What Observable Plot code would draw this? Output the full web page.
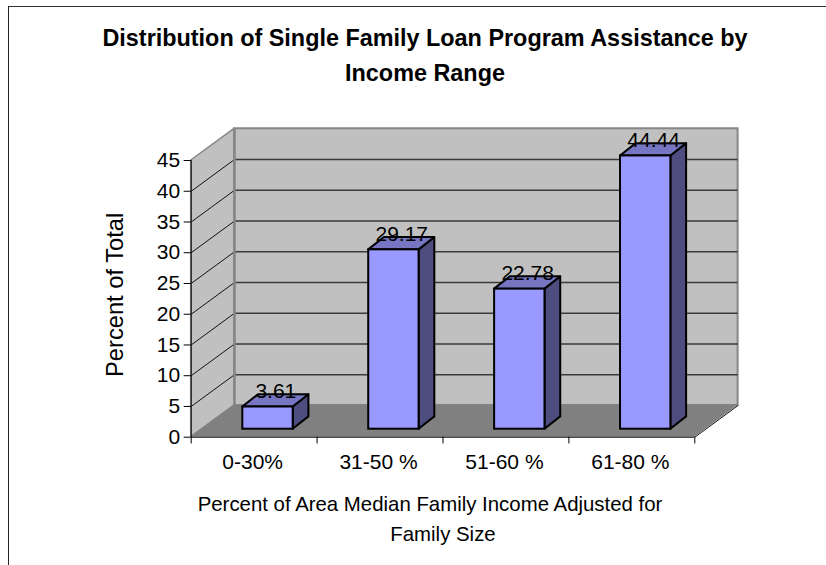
<!DOCTYPE html>
<html>
<head>
<meta charset="utf-8">
<script src="https://cdn.jsdelivr.net/npm/d3@7"></script>
<script src="https://cdn.jsdelivr.net/npm/@observablehq/plot@0.6"></script>
<style>
  html, body { margin: 0; padding: 0; background: #fff; overflow: hidden; }
  #page { position: relative; width: 826px; height: 565px; font-family: "Liberation Sans", Arial, sans-serif; color: #000; }
  #border { position: absolute; left: 8px; top: 6px; right: 0; bottom: -4px; border-left: 1.5px solid #222; border-top: 1.5px solid #333; }
  #chart { position: absolute; left: 0; top: 0; }
  .line { position: absolute; white-space: nowrap; transform: translateX(-50%); line-height: 1; }
  .title { font-weight: bold; font-size: 23.4px; }
  .caption { font-size: 20.4px; }
</style>
</head>
<body>
<div id="page">
  <div id="border"></div>
  <div id="chart"></div>
  <div class="line title" style="left:425px;top:27px">Distribution of Single Family Loan Program Assistance by</div>
  <div class="line title" style="left:425px;top:62px">Income Range</div>
  <div class="line caption" style="left:430px;top:494px">Percent of Area Median Family Income Adjusted for</div>
  <div class="line caption" style="left:443px;top:524px">Family Size</div>
</div>
<script>
// Loan program shares by income range
const categories = ["0-30%", "31-50 %", "51-60 %", "61-80 %"];
const shares = [3.61, 29.17, 22.78, 44.44];
const valueTicks = [0, 5, 10, 15, 20, 25, 30, 35, 40, 45];
const categoryEdges = [0, 1, 2, 3, 4];

// Oblique projection: how far the rear plane sits from the front plane, in scale units
const depthX = 0.344;
const depthY = 5.16;
const xMax = 4;
const yMax = 45;

// Bar placement within a category band, and the bar's own depth
const barOffset = 0.41;
const barWidth = 0.40;
const barDepthX = 0.125;
const barDepthY = 2.0;
const barBase = 1.3;

const bars = shares.map((value, i) => {
  const x1 = i + barOffset;
  const x2 = x1 + barWidth;
  const y1 = barBase;
  const y2 = barBase + value;
  return {category: categories[i], value, x1, x2, y1, y2};
});

const sideFaces = bars.flatMap((b) => [
  {category: b.category, x: b.x2, y1: b.y1, y2: b.y2},
  {category: b.category, x: b.x2 + barDepthX, y1: b.y1 + barDepthY, y2: b.y2 + barDepthY}
]);
const topFaces = bars.flatMap((b) => [
  {category: b.category, y: b.y2, x1: b.x1, x2: b.x2},
  {category: b.category, y: b.y2 + barDepthY, x1: b.x1 + barDepthX, x2: b.x2 + barDepthX}
]);

const sideWall = [
  {x: 0, y1: 0, y2: yMax},
  {x: depthX, y1: depthY, y2: yMax + depthY}
];
const floor = [
  {y: 0, x1: 0, x2: xMax},
  {y: depthY, x1: depthX, x2: xMax + depthX}
];

const chart = Plot.plot({
  width: 826,
  height: 565,
  marginLeft: 190.7,
  marginRight: 131.7,
  marginTop: 160,
  marginBottom: 128.3,
  style: {background: "transparent", fontFamily: '"Liberation Sans", Arial, sans-serif', overflow: "visible"},
  x: {domain: [0, xMax]},
  y: {domain: [0, yMax]},
  marks: [
    // Rear wall, side wall and floor
    Plot.rect([0], {x1: depthX, x2: xMax + depthX, y1: depthY, y2: yMax + depthY, fill: "#c0c0c0", stroke: "#868686", strokeWidth: 2}),
    Plot.areaY(sideWall, {x: "x", y1: "y1", y2: "y2", fill: "#c0c0c0", stroke: "#868686", strokeWidth: 1.5}),
    Plot.areaX(floor, {y: "y", x1: "x1", x2: "x2", fill: "#808080"}),
    // Gridlines on both walls
    Plot.ruleY(valueTicks.slice(1, -1), {y: (d) => d + depthY, x1: depthX, x2: xMax + depthX, stroke: "#3a3a3a", strokeWidth: 1.3}),
    Plot.link(valueTicks.slice(1, -1), {x1: 0, y1: (d) => d, x2: depthX, y2: (d) => d + depthY, stroke: "#111", strokeWidth: 1}),
    Plot.ruleX([depthX], {y1: depthY, y2: yMax + depthY, stroke: "#868686", strokeWidth: 2.5}),
    Plot.link([xMax], {x1: (d) => d, y1: 0, x2: (d) => d + depthX, y2: depthY, stroke: "#111", strokeWidth: 1}),
    // Bars: side, top, then front face
    Plot.areaY(sideFaces, {x: "x", y1: "y1", y2: "y2", z: "category", fill: "#4d4d80", stroke: "#000", strokeWidth: 2}),
    Plot.areaX(topFaces, {y: "y", x1: "x1", x2: "x2", z: "category", fill: "#7676c2", stroke: "#000", strokeWidth: 2}),
    Plot.rect(bars, {x1: "x1", x2: "x2", y1: "y1", y2: "y2", fill: "#9999ff", stroke: "#000", strokeWidth: 2}),
    // Axis lines and ticks
    Plot.ruleX([0], {y1: 0, y2: yMax, stroke: "#000", strokeWidth: 1}),
    Plot.ruleY([0], {x1: 0, x2: xMax, stroke: "#000", strokeWidth: 1}),
    Plot.ruleX(categoryEdges, {x: (d) => d, y1: 0, y2: -1.1, stroke: "#000", strokeWidth: 1}),
    Plot.axisX({
      ticks: categories.map((_, i) => i + 0.5),
      tickFormat: (d) => categories[d - 0.5],
      tickSize: 0,
      tickPadding: 17,
      dx: -1.5,
      fontSize: 21,
      label: null,
      color: "#000"
    }),
    Plot.axisY({
      ticks: valueTicks,
      tickFormat: (d) => `${d}`,
      tickSize: 7,
      tickPadding: 4,
      fontSize: 21,
      label: null,
      color: "#000"
    }),
    Plot.text(["Percent of Total"], {
      text: (d) => d,
      frameAnchor: "left",
      textAnchor: "middle",
      dx: -75.7,
      dy: -4,
      rotate: -90,
      fontSize: 23.7,
      fill: "#000"
    }),
    // Value labels above each bar
    Plot.text(bars, {
      x: (d) => (d.x1 + d.x2 + barDepthX) / 2,
      y: "y2",
      dy: -15.5,
      text: (d) => d.value.toFixed(2),
      fontSize: 21,
      fill: "#000"
    })
  ]
});
document.getElementById("chart").appendChild(chart);
</script>
</body>
</html>
